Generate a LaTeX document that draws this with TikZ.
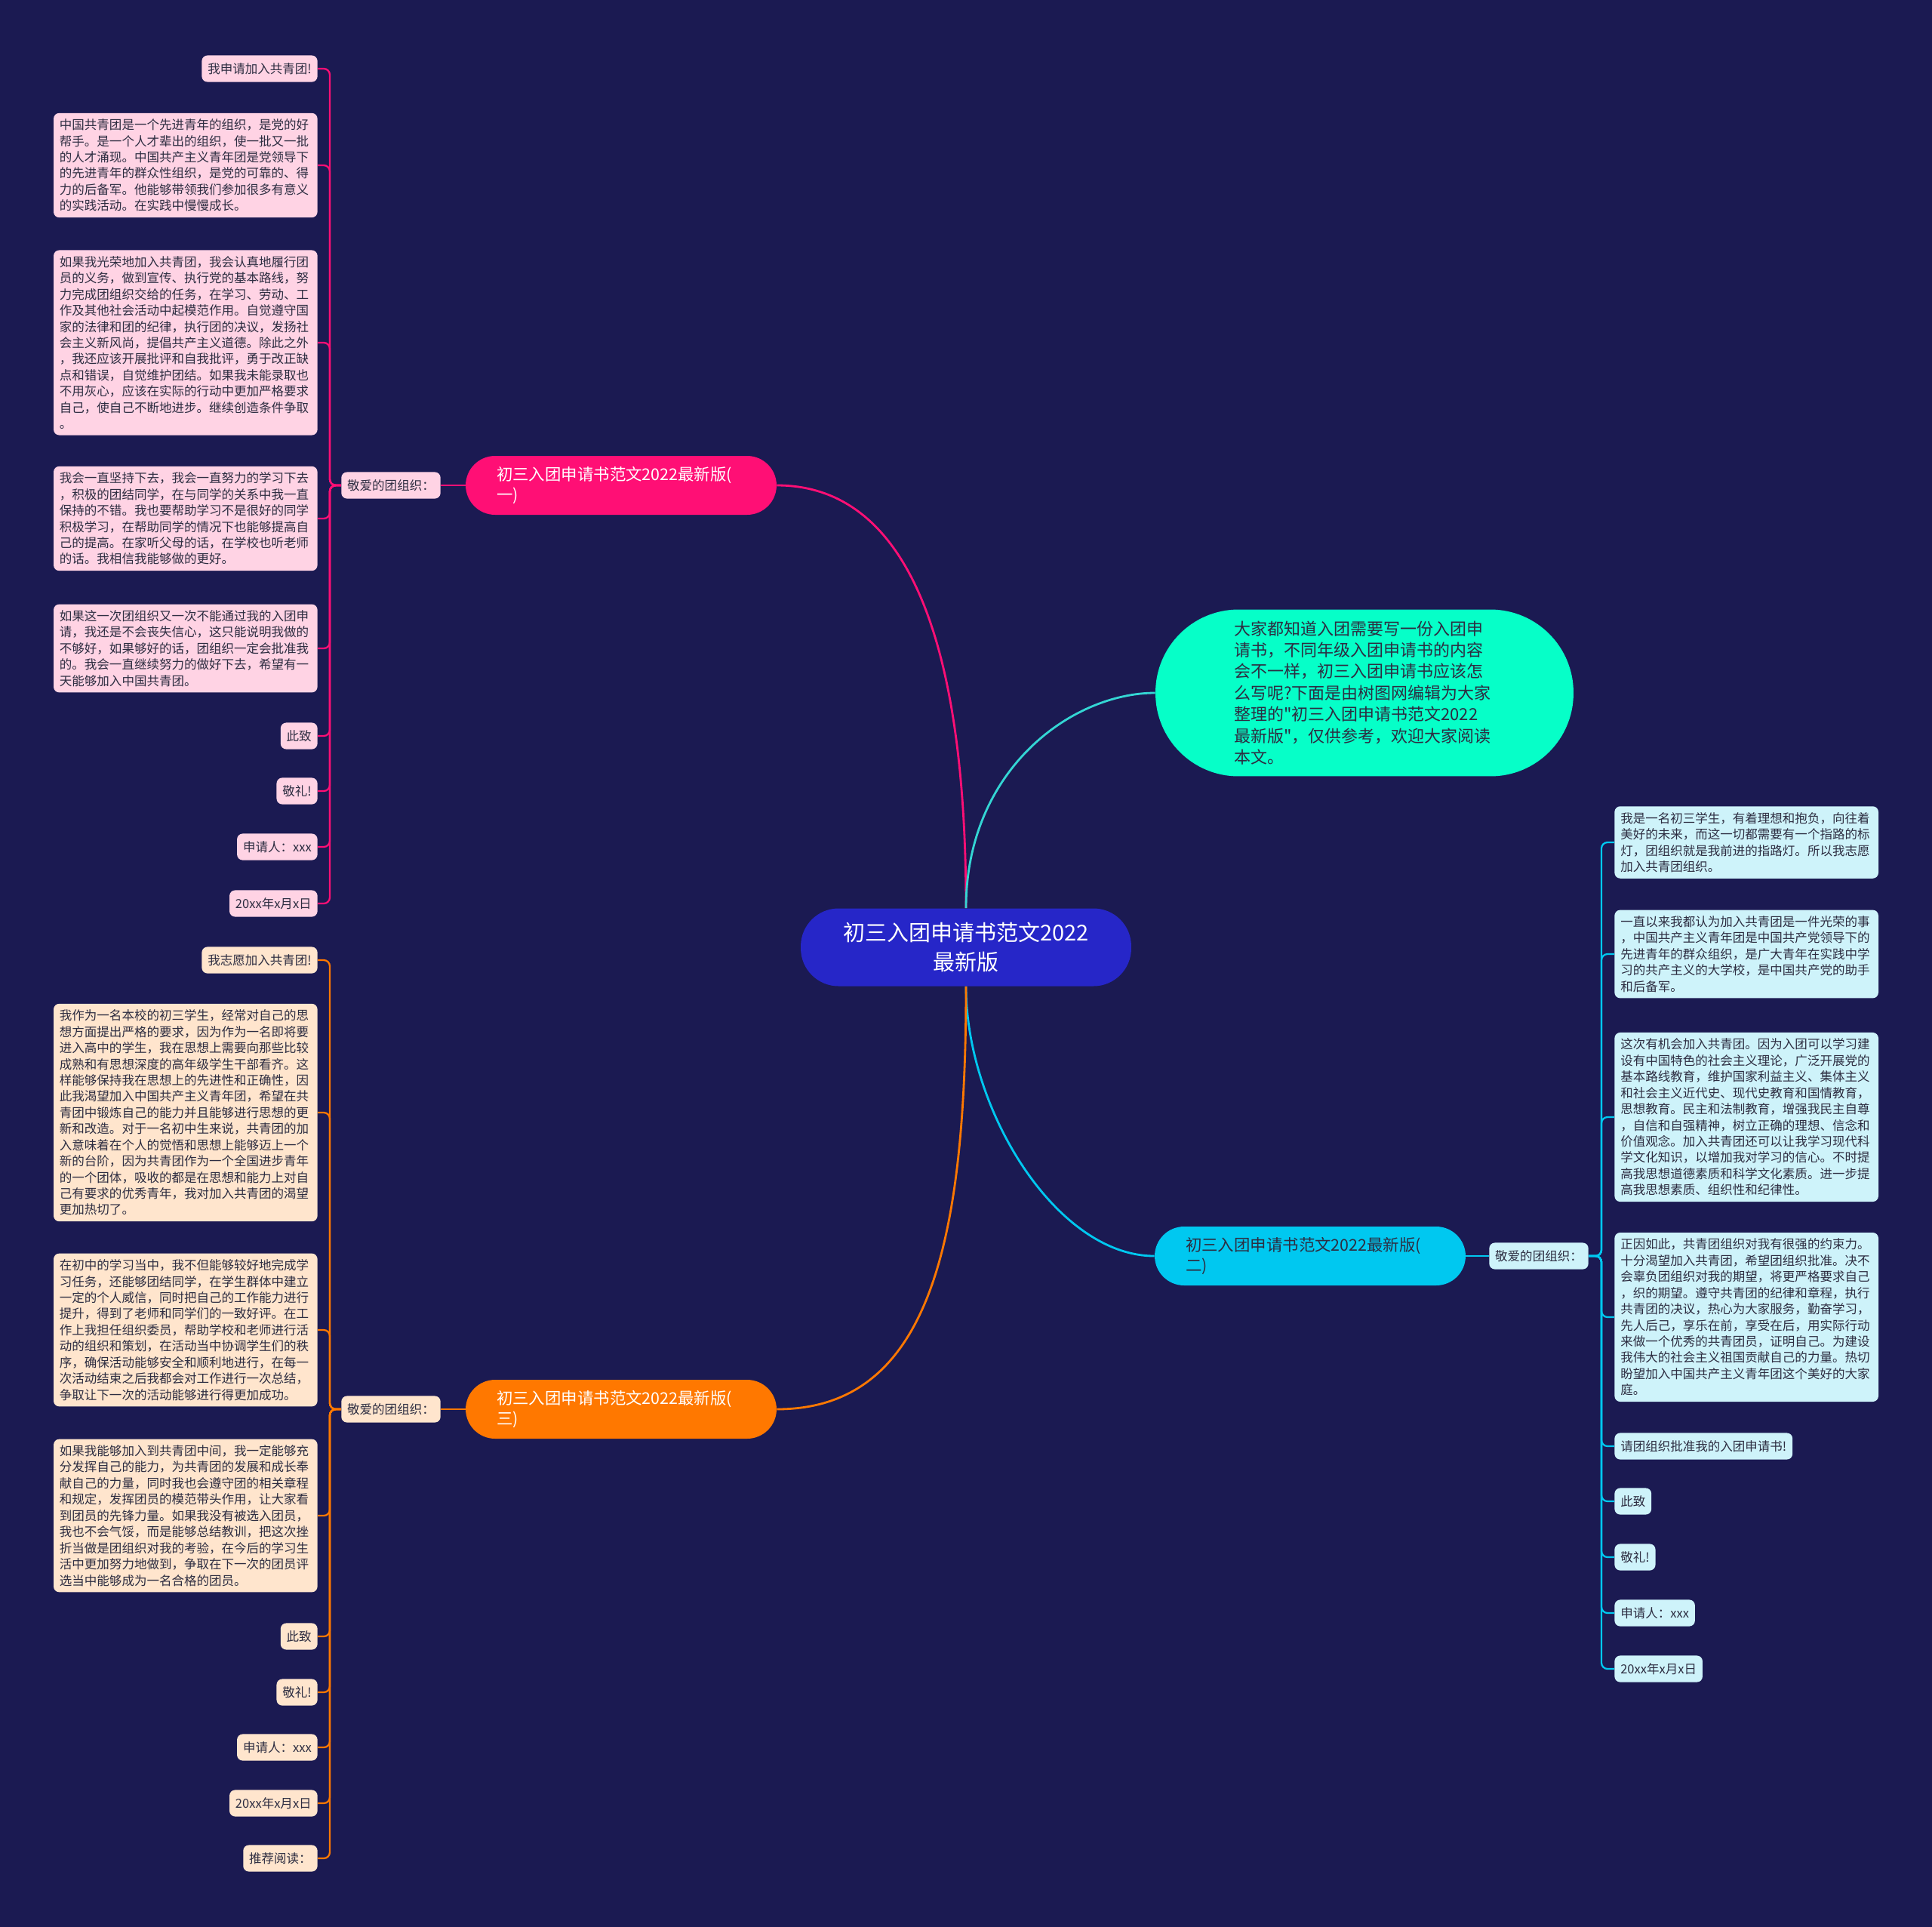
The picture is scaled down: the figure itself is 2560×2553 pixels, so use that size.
\documentclass[tikz,border=0pt]{standalone}
\usepackage{fontspec}
\setmainfont{Noto Sans CJK SC}
\newfontfamily\cjkplain{Noto Sans CJK SC}
\usepackage{tikz}
\definecolor{bgnavy}{RGB}{27,26,82}
\definecolor{ctrblue}{RGB}{38,38,200}
\definecolor{introgreen}{RGB}{6,255,200}
\definecolor{introln}{RGB}{52,214,212}
\definecolor{pinkmain}{RGB}{255,15,117}
\definecolor{pinkleaf}{RGB}{255,211,228}
\definecolor{cyanmain}{RGB}{0,200,240}
\definecolor{cyanleaf}{RGB}{206,243,250}
\definecolor{orgmain}{RGB}{255,120,0}
\definecolor{orgleaf}{RGB}{255,229,205}
\definecolor{leaftxt}{RGB}{45,45,65}

\begin{document}
\begin{tikzpicture}[x=0.02cm,y=-0.02cm]
\tikzstyle{ctr}=[fill=ctrblue,text=white,align=center,minimum width=8.76cm,minimum height=2.06cm,rounded corners=1cm,font=\fontsize{16.5}{22}\selectfont]
\tikzstyle{intro}=[fill=introgreen,text=leaftxt,align=left,text width=6.9cm,minimum width=11.08cm,minimum height=4.42cm,rounded corners=2.2cm,font=\cjkplain\fontsize{12.5}{16.2}\selectfont]
\tikzstyle{brn}=[align=left,text width=6.6cm,minimum width=8.24cm,minimum height=1.56cm,rounded corners=0.78cm,font=\fontsize{12.2}{15.8}\selectfont]
\tikzstyle{leaf}=[text=leaftxt,rounded corners=0.15cm,inner xsep=4.5pt,inner ysep=4.5pt,minimum height=20pt,font=\fontsize{9.4}{12.2}\selectfont]
\tikzstyle{para}=[leaf,align=left,text width=190pt]
\tikzstyle{main}=[line width=1.6pt]
\tikzstyle{bk}=[line width=1.3pt,rounded corners=0.16cm]

\useasboundingbox[fill=bgnavy] (0,0) rectangle (2560,2553);

\node[ctr] (root) at (1280,1255) {初三入团申请书范文2022\\最新版};
\node[intro] (intro) at (1808,918) {大家都知道入团需要写一份入团申\\请书，不同年级入团申请书的内容\\会不一样，初三入团申请书应该怎\\么写呢?下面是由树图网编辑为大家\\整理的"初三入团申请书范文2022\\最新版"，仅供参考，欢迎大家阅读\\本文。};
\node[brn,fill=pinkmain,text=white] (brA) at (823,643) {初三入团申请书范文2022最新版(\\一)};
\node[brn,fill=cyanmain,text=leaftxt] (brB) at (1736,1664) {初三入团申请书范文2022最新版(\\二)};
\node[brn,fill=orgmain,text=white] (brC) at (823,1867) {初三入团申请书范文2022最新版(\\三)};

\node[leaf,fill=pinkleaf] (labA) at (518,643) {敬爱的团组织：};
\node[leaf,fill=cyanleaf] (labB) at (2039,1664) {敬爱的团组织：};
\node[leaf,fill=orgleaf] (labC) at (518,1867) {敬爱的团组织：};

\node[leaf,fill=pinkleaf,anchor=east] (pA1) at (421,91) {我申请加入共青团!};
\node[para,fill=pinkleaf,anchor=east] (pA2) at (421,219) {中国共青团是一个先进青年的组织，是党的好\\帮手。是一个人才辈出的组织，使一批又一批\\的人才涌现。中国共产主义青年团是党领导下\\的先进青年的群众性组织，是党的可靠的、得\\力的后备军。他能够带领我们参加很多有意义\\的实践活动。在实践中慢慢成长。};
\node[para,fill=pinkleaf,anchor=east] (pA3) at (421,454) {如果我光荣地加入共青团，我会认真地履行团\\员的义务，做到宣传、执行党的基本路线，努\\力完成团组织交给的任务，在学习、劳动、工\\作及其他社会活动中起模范作用。自觉遵守国\\家的法律和团的纪律，执行团的决议，发扬社\\会主义新风尚，提倡共产主义道德。除此之外\\，我还应该开展批评和自我批评，勇于改正缺\\点和错误，自觉维护团结。如果我未能录取也\\不用灰心，应该在实际的行动中更加严格要求\\自己，使自己不断地进步。继续创造条件争取\\。};
\node[para,fill=pinkleaf,anchor=east] (pA4) at (421,687) {我会一直坚持下去，我会一直努力的学习下去\\，积极的团结同学，在与同学的关系中我一直\\保持的不错。我也要帮助学习不是很好的同学\\积极学习，在帮助同学的情况下也能够提高自\\己的提高。在家听父母的话，在学校也听老师\\的话。我相信我能够做的更好。};
\node[para,fill=pinkleaf,anchor=east] (pA5) at (421,859) {如果这一次团组织又一次不能通过我的入团申\\请，我还是不会丧失信心，这只能说明我做的\\不够好，如果够好的话，团组织一定会批准我\\的。我会一直继续努力的做好下去，希望有一\\天能够加入中国共青团。};
\node[leaf,fill=pinkleaf,anchor=east] (pA6) at (421,975) {此致};
\node[leaf,fill=pinkleaf,anchor=east] (pA7) at (421,1048) {敬礼!};
\node[leaf,fill=pinkleaf,anchor=east] (pA8) at (421,1122) {申请人：xxx};
\node[leaf,fill=pinkleaf,anchor=east] (pA9) at (421,1197) {20xx年x月x日};

\node[para,fill=cyanleaf,anchor=west] (pB1) at (2139,1116) {我是一名初三学生，有着理想和抱负，向往着\\美好的未来，而这一切都需要有一个指路的标\\灯，团组织就是我前进的指路灯。所以我志愿\\加入共青团组织。};
\node[para,fill=cyanleaf,anchor=west] (pB2) at (2139,1264) {一直以来我都认为加入共青团是一件光荣的事\\，中国共产主义青年团是中国共产党领导下的\\先进青年的群众组织，是广大青年在实践中学\\习的共产主义的大学校，是中国共产党的助手\\和后备军。};
\node[para,fill=cyanleaf,anchor=west] (pB3) at (2139,1480) {这次有机会加入共青团。因为入团可以学习建\\设有中国特色的社会主义理论，广泛开展党的\\基本路线教育，维护国家利益主义、集体主义\\和社会主义近代史、现代史教育和国情教育，\\思想教育。民主和法制教育，增强我民主自尊\\，自信和自强精神，树立正确的理想、信念和\\价值观念。加入共青团还可以让我学习现代科\\学文化知识，以增加我对学习的信心。不时提\\高我思想道德素质和科学文化素质。进一步提\\高我思想素质、组织性和纪律性。};
\node[para,fill=cyanleaf,anchor=west] (pB4) at (2139,1745) {正因如此，共青团组织对我有很强的约束力。\\十分渴望加入共青团，希望团组织批准。决不\\会辜负团组织对我的期望，将更严格要求自己\\，织的期望。遵守共青团的纪律和章程，执行\\共青团的决议，热心为大家服务，勤奋学习，\\先人后己，享乐在前，享受在后，用实际行动\\来做一个优秀的共青团员，证明自己。为建设\\我伟大的社会主义祖国贡献自己的力量。热切\\盼望加入中国共产主义青年团这个美好的大家\\庭。};
\node[leaf,fill=cyanleaf,anchor=west] (pB5) at (2139,1916) {请团组织批准我的入团申请书!};
\node[leaf,fill=cyanleaf,anchor=west] (pB6) at (2139,1989) {此致};
\node[leaf,fill=cyanleaf,anchor=west] (pB7) at (2139,2063) {敬礼!};
\node[leaf,fill=cyanleaf,anchor=west] (pB8) at (2139,2137) {申请人：xxx};
\node[leaf,fill=cyanleaf,anchor=west] (pB9) at (2139,2211) {20xx年x月x日};

\node[leaf,fill=orgleaf,anchor=east] (pC1) at (421,1272) {我志愿加入共青团!};
\node[para,fill=orgleaf,anchor=east] (pC2) at (421,1474) {我作为一名本校的初三学生，经常对自己的思\\想方面提出严格的要求，因为作为一名即将要\\进入高中的学生，我在思想上需要向那些比较\\成熟和有思想深度的高年级学生干部看齐。这\\样能够保持我在思想上的先进性和正确性，因\\此我渴望加入中国共产主义青年团，希望在共\\青团中锻炼自己的能力并且能够进行思想的更\\新和改造。对于一名初中生来说，共青团的加\\入意味着在个人的觉悟和思想上能够迈上一个\\新的台阶，因为共青团作为一个全国进步青年\\的一个团体，吸收的都是在思想和能力上对自\\己有要求的优秀青年，我对加入共青团的渴望\\更加热切了。};
\node[para,fill=orgleaf,anchor=east] (pC3) at (421,1762) {在初中的学习当中，我不但能够较好地完成学\\习任务，还能够团结同学，在学生群体中建立\\一定的个人威信，同时把自己的工作能力进行\\提升，得到了老师和同学们的一致好评。在工\\作上我担任组织委员，帮助学校和老师进行活\\动的组织和策划，在活动当中协调学生们的秩\\序，确保活动能够安全和顺利地进行，在每一\\次活动结束之后我都会对工作进行一次总结，\\争取让下一次的活动能够进行得更加成功。};
\node[para,fill=orgleaf,anchor=east] (pC4) at (421,2008) {如果我能够加入到共青团中间，我一定能够充\\分发挥自己的能力，为共青团的发展和成长奉\\献自己的力量，同时我也会遵守团的相关章程\\和规定，发挥团员的模范带头作用，让大家看\\到团员的先锋力量。如果我没有被选入团员，\\我也不会气馁，而是能够总结教训，把这次挫\\折当做是团组织对我的考验，在今后的学习生\\活中更加努力地做到，争取在下一次的团员评\\选当中能够成为一名合格的团员。};
\node[leaf,fill=orgleaf,anchor=east] (pC5) at (421,2168) {此致};
\node[leaf,fill=orgleaf,anchor=east] (pC6) at (421,2242) {敬礼!};
\node[leaf,fill=orgleaf,anchor=east] (pC7) at (421,2315) {申请人：xxx};
\node[leaf,fill=orgleaf,anchor=east] (pC8) at (421,2389) {20xx年x月x日};
\node[leaf,fill=orgleaf,anchor=east] (pC9) at (421,2462) {推荐阅读：};

\coordinate (sA) at (437,643);
\coordinate (sB) at (2122,1664);
\coordinate (sC) at (437,1867);

\draw[main,pinkmain] (root.north) .. controls (1280,800) and (1180,643) .. (brA.east);
\draw[main,introln] (root.north) .. controls (1280,1020) and (1420,918) .. (intro.west);
\draw[main,cyanmain] (root.south) .. controls (1280,1470) and (1400,1664) .. (brB.west);
\draw[main,orgmain] (root.south) .. controls (1280,1650) and (1230,1867) .. (brC.east);

\draw[bk,pinkmain] (brA.west) -- (labA.east);
\draw[bk,cyanmain] (brB.east) -- (labB.west);
\draw[bk,orgmain] (brC.west) -- (labC.east);
\foreach \i in {1,...,9} {
\draw[bk,pinkmain] (labA.west) -- (sA) |- (pA\i.east);
\draw[bk,cyanmain] (labB.east) -- (sB) |- (pB\i.west);
\draw[bk,orgmain] (labC.west) -- (sC) |- (pC\i.east);
}
\end{tikzpicture}
\end{document}
